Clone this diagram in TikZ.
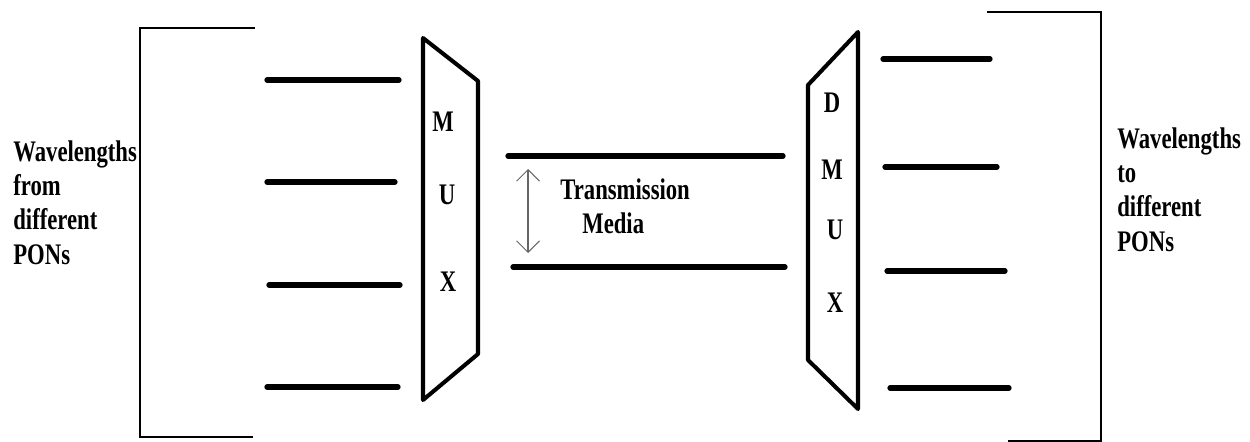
\documentclass[tikz,border=0pt]{standalone}
\usepackage{fontspec}
\setmainfont{Liberation Serif}[FakeStretch=0.76]
\usetikzlibrary{arrows.meta}
\tikzset{
  bracketline/.style={draw=black, line width=1.4pt},
  wire/.style={draw=black, line width=3.0pt, line cap=round},
  boxedge/.style={draw=black, line width=2.3pt, line join=round},
  lbl/.style={inner sep=0pt, align=left, font=\bfseries\fontsize{17}{19.6}\selectfont},
  letter/.style={inner sep=0pt, font=\bfseries\fontsize{17}{19.6}\selectfont},
  gap/.style={draw=black!60, line width=0.6pt, {Straight Barb[length=6.5pt,width=13pt]}-{Straight Barb[length=6.5pt,width=13pt]}}
}
\begin{document}
\begin{tikzpicture}[x=0.02cm,y=-0.02cm]
\useasboundingbox (0,0) rectangle (1250,442);
\fill[white] (0,0) rectangle (1250,442);

% left bracket
\coordinate (lbt) at (255,28);
\coordinate (lbtl) at (140,28);
\coordinate (lbbl) at (140,437);
\coordinate (lbb) at (253,437);
\draw[bracketline] (lbt) -- (lbtl) -- (lbbl) -- (lbb);

% left wavelength lines
\coordinate (la1) at (267,80);  \coordinate (lb1) at (399,80);
\coordinate (la2) at (267,182); \coordinate (lb2) at (395,182);
\coordinate (la3) at (269,285); \coordinate (lb3) at (400,285);
\coordinate (la4) at (267,387); \coordinate (lb4) at (398,387);
\draw[wire] (la1) -- (lb1);
\draw[wire] (la2) -- (lb2);
\draw[wire] (la3) -- (lb3);
\draw[wire] (la4) -- (lb4);

% MUX
\coordinate (m1) at (423,38);
\coordinate (m2) at (478,81);
\coordinate (m3) at (478,354);
\coordinate (m4) at (423,400);
\draw[boxedge] (m1) -- (m2) -- (m3) -- (m4) -- cycle;
\node[letter] (mM) at (443,122) {M};
\node[letter] (mU) at (447,195) {U};
\node[letter] (mX) at (448,282) {X};

% transmission media
\coordinate (t1a) at (508,156); \coordinate (t1b) at (783,156);
\coordinate (t2a) at (513,267); \coordinate (t2b) at (785,267);
\draw[wire] (t1a) -- (t1b);
\draw[wire] (t2a) -- (t2b);
\coordinate (ga) at (528,169);
\coordinate (gb) at (528,253);
\draw[gap] (ga) -- (gb);
\node[lbl, anchor=north west] (tm) at (560,178) {Transmission\\\hspace{12.5pt}Media};

% DMUX
\coordinate (d1) at (808,85);
\coordinate (d2) at (858,32);
\coordinate (d3) at (858,409);
\coordinate (d4) at (808,360);
\draw[boxedge] (d1) -- (d2) -- (d3) -- (d4) -- cycle;
\node[letter] (dD) at (832,103) {D};
\node[letter] (dM) at (832,170) {M};
\node[letter] (dU) at (835,230) {U};
\node[letter] (dX) at (835,303) {X};

% right wavelength lines
\coordinate (ra1) at (883,59);  \coordinate (rb1) at (990,59);
\coordinate (ra2) at (885,167); \coordinate (rb2) at (997,167);
\coordinate (ra3) at (887,271); \coordinate (rb3) at (1005,271);
\coordinate (ra4) at (890,388); \coordinate (rb4) at (1009,388);
\draw[wire] (ra1) -- (rb1);
\draw[wire] (ra2) -- (rb2);
\draw[wire] (ra3) -- (rb3);
\draw[wire] (ra4) -- (rb4);

% right bracket
\coordinate (rbt) at (987,12);
\coordinate (rbtr) at (1101,12);
\coordinate (rbbr) at (1101,441);
\coordinate (rbb) at (1008,441);
\draw[bracketline] (rbt) -- (rbtr) -- (rbbr) -- (rbb);

% labels
\node[lbl, anchor=north west] (lt) at (13,140) {Wavelengths\\from\\different\\PONs};
\node[lbl, anchor=north west] (rt) at (1117,127) {Wavelengths\\to\\different\\PONs};
\end{tikzpicture}
\end{document}
